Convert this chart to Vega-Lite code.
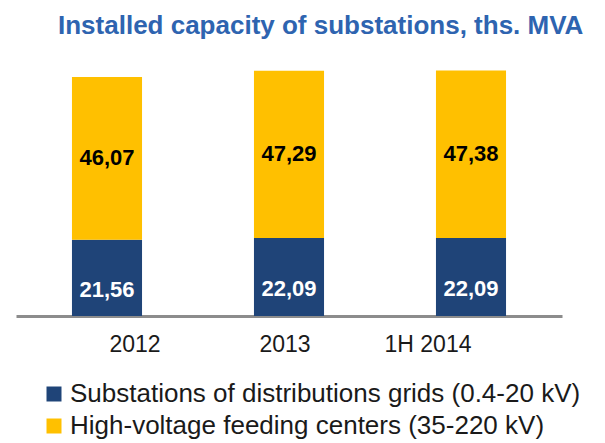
{
  "$schema": "https://vega.github.io/schema/vega-lite/v6.json",
  "width": 546,
  "height": 265,
  "padding": {"left": 16, "top": 51, "right": 43, "bottom": 127},
  "autosize": {"type": "none"},
  "background": "white",
  "title": {
    "text": "Installed capacity of substations, ths. MVA",
    "anchor": "start",
    "dx": 42,
    "offset": 12,
    "font": "Liberation Sans, Arial, sans-serif",
    "fontSize": 26,
    "fontWeight": "bold",
    "color": "#2E64B0"
  },
  "data": {
    "values": [
      {"year": "2012", "series": "Substations of distributions grids (0.4-20 kV)", "value": 21.56},
      {"year": "2012", "series": "High-voltage feeding centers (35-220 kV)", "value": 46.07},
      {"year": "2013", "series": "Substations of distributions grids (0.4-20 kV)", "value": 22.09},
      {"year": "2013", "series": "High-voltage feeding centers (35-220 kV)", "value": 47.29},
      {"year": "1H 2014", "series": "Substations of distributions grids (0.4-20 kV)", "value": 22.09},
      {"year": "1H 2014", "series": "High-voltage feeding centers (35-220 kV)", "value": 47.38}
    ]
  },
  "transform": [
    {"calculate": "indexof(['Substations of distributions grids (0.4-20 kV)', 'High-voltage feeding centers (35-220 kV)'], datum.series)", "as": "ord"},
    {"stack": "value", "groupby": ["year"], "sort": [{"field": "ord", "order": "ascending"}], "as": ["v0", "v1"]},
    {"calculate": "(datum.v0 + datum.v1) / 2", "as": "mid"},
    {"calculate": "replace(format(datum.value, '.2f'), '.', ',')", "as": "label"}
  ],
  "encoding": {
    "x": {
      "field": "year",
      "type": "nominal",
      "sort": ["2012", "2013", "1H 2014"],
      "scale": {"paddingInner": 0.615, "paddingOuter": 0.3075},
      "axis": {
        "title": null,
        "labelAngle": 0,
        "ticks": false,
        "domainColor": "#8C8C8C",
        "domainWidth": 3,
        "labelFont": "Liberation Sans, Arial, sans-serif",
        "labelFontSize": 23,
        "labelColor": "#1A1A1A",
        "labelPadding": 17,
        "labelOffset": {"expr": "datum.value === '2012' ? 28 : datum.value === '2013' ? -4 : -43"}
      }
    }
  },
  "layer": [
    {
      "mark": {"type": "bar"},
      "encoding": {
        "y": {"field": "v0", "type": "quantitative", "scale": {"domain": [0, 75], "nice": false, "zero": true}, "axis": null},
        "y2": {"field": "v1"},
        "color": {
          "field": "series",
          "type": "nominal",
          "sort": ["Substations of distributions grids (0.4-20 kV)", "High-voltage feeding centers (35-220 kV)"],
          "scale": {
            "domain": ["Substations of distributions grids (0.4-20 kV)", "High-voltage feeding centers (35-220 kV)"],
            "range": ["#1F4478", "#FFC000"]
          },
          "legend": {
            "title": null,
            "orient": "none",
            "legendX": 25,
            "legendY": 330,
            "symbolType": "square",
            "symbolSize": 225,
            "symbolStrokeWidth": 0,
            "labelFont": "Liberation Sans, Arial, sans-serif",
            "labelFontSize": 26,
            "labelColor": "#1A1A1A",
            "labelLimit": 0,
            "rowPadding": 6,
            "labelOffset": 3
          }
        }
      }
    },
    {
      "transform": [{"filter": "datum.ord === 1"}],
      "mark": {"type": "text", "font": "Liberation Sans, Arial, sans-serif", "fontSize": 22, "fontWeight": "bold", "color": "#000000", "baseline": "middle"},
      "encoding": {
        "y": {"field": "mid", "type": "quantitative"},
        "text": {"field": "label"}
      }
    },
    {
      "transform": [{"filter": "datum.ord === 0"}],
      "mark": {"type": "text", "font": "Liberation Sans, Arial, sans-serif", "fontSize": 22, "fontWeight": "bold", "color": "#FFFFFF", "baseline": "middle", "dy": 12},
      "encoding": {
        "y": {"field": "mid", "type": "quantitative"},
        "text": {"field": "label"}
      }
    }
  ],
  "config": {"view": {"stroke": null}}
}
